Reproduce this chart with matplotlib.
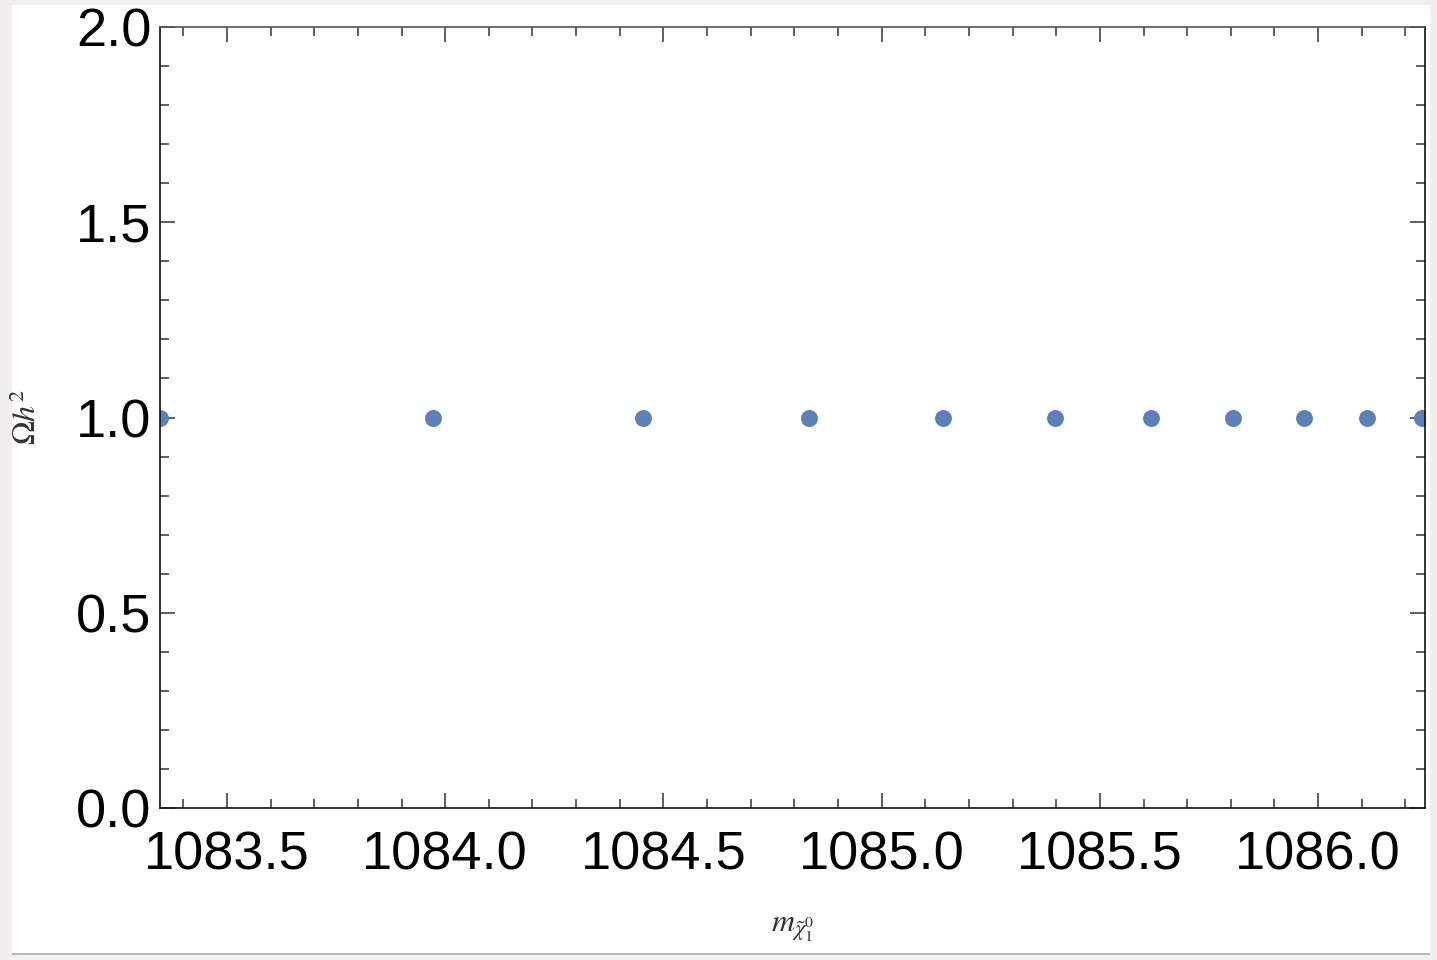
import matplotlib
matplotlib.use("Agg")
import matplotlib.pyplot as plt
from matplotlib.ticker import MultipleLocator, FormatStrFormatter
from matplotlib.patches import Rectangle

# Data
mass = [1083.346, 1083.972, 1084.453, 1084.834, 1085.141, 1085.397,
        1085.617, 1085.805, 1085.968, 1086.112, 1086.239]
omega_h2 = [1.0, 1.0, 1.0, 1.0, 1.0, 1.0, 1.0, 1.0, 1.0, 1.0, 1.0]

xlim = (1083.3465, 1086.245)
ylim = (0.0, 2.0)

plt.rcParams['mathtext.fontset'] = 'stix'
plt.rcParams['font.family'] = ['Liberation Sans', 'DejaVu Sans']

W, H = 1437, 960
fig = plt.figure(figsize=(W / 100, H / 100), dpi=100, facecolor='#f1f0ee')
# white panel
fig.patches.append(Rectangle((12 / W, 1 - 953 / H), (1430 - 12) / W, (953 - 5) / H,
                             transform=fig.transFigure, facecolor='white',
                             edgecolor='none', zorder=-2))
fig.patches.append(Rectangle((12 / W, 1 - 955 / H), (1430 - 12) / W, 2 / H,
                             transform=fig.transFigure, facecolor='#b8b8b8',
                             edgecolor='none', zorder=-2))

ax = fig.add_axes([160 / W, 1 - 808 / H, (1425 - 160) / W, (808 - 27) / H])
ax.set_zorder(5)
ax.set_facecolor('white')

ax.plot(mass, omega_h2, linestyle='none', marker='o', markersize=12.2,
        color='#5e81b5', markeredgewidth=0)

ax.set_xlim(*xlim)
ax.set_ylim(*ylim)

ax.xaxis.set_major_locator(MultipleLocator(0.5))
ax.xaxis.set_minor_locator(MultipleLocator(0.1))
ax.yaxis.set_major_locator(MultipleLocator(0.5))
ax.yaxis.set_minor_locator(MultipleLocator(0.1))
ax.xaxis.set_major_formatter(FormatStrFormatter('%.1f'))
ax.yaxis.set_major_formatter(FormatStrFormatter('%.1f'))

for s in ax.spines.values():
    s.set_linewidth(1.2)
    s.set_color('#111111')
ax.spines['top'].set_color('#555555')

ax.tick_params(which='both', direction='in', top=True, right=True,
               color='#333333', width=1.1)
ax.tick_params(which='major', length=11, labelsize=39)
ax.tick_params(which='minor', length=6.5)
ax.tick_params(axis='x', which='major', pad=16)
ax.tick_params(axis='y', which='major', pad=6)

ax.set_xlabel(r'$m_{\tilde{\chi}_1^0}$', fontsize=23, labelpad=24, color='#333333')
ax.set_ylabel(r'$\Omega h^2$', fontsize=23, labelpad=24, color='#333333')

fig.savefig('out.png', dpi=100, facecolor=fig.get_facecolor())
